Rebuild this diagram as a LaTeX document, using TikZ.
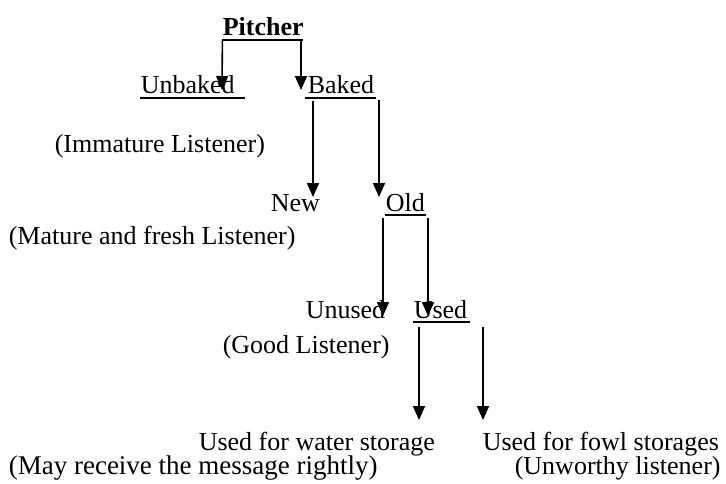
\documentclass[tikz,border=0pt]{standalone}
\usepackage{fontspec}
\setmainfont{Liberation Serif}
\usetikzlibrary{arrows.meta}

\begin{document}
\begin{tikzpicture}[x=0.5pt,y=-0.5pt,line width=0.8pt,
    >={Triangle[width=6pt,length=7pt]},
    every node/.style={inner sep=0pt,anchor=base west,
        font=\fontsize{13}{15}\selectfont}]
\useasboundingbox (0,0) rectangle (726,483);

\node [font=\fontsize{13}{15}\selectfont\bfseries]
                      (pitcher)  at (222, 35) {Pitcher};
\node                 (unbaked)  at (140, 93) {Unbaked};
\node                 (baked)    at (307, 93) {Baked};
\node                 (immature) at ( 54,152) {(Immature Listener)};
\node                 (new)      at (270,211) {New};
\node                 (old)      at (385,211) {Old};
\node                 (mature)   at (  8,244) {(Mature and fresh Listener)};
\node                 (unused)   at (305,318) {Unused};
\node                 (used)     at (413,318) {Used};
\node                 (good)     at (222,353) {(Good Listener)};
\node                 (water)    at (198,450) {Used for water storage};
\node                 (fowl)     at (482,450) {Used for fowl storages};
\node [font=\fontsize{13.5}{15}\selectfont]
                      (may)      at (  8,474) {(May receive the message rightly)};
\node                 (unworthy) at (514,474) {(Unworthy listener)};

% underlines
\coordinate (pitcher-l) at (222, 40);
\coordinate (pitcher-r) at (303, 40);
\coordinate (unbaked-l) at (140, 98);
\coordinate (unbaked-r) at (245, 98);
\coordinate (baked-l)   at (305, 98);
\coordinate (baked-r)   at (376, 98);
\coordinate (old-l)     at (385,215);
\coordinate (old-r)     at (426,215);
\coordinate (used-l)    at (413,322);
\coordinate (used-r)    at (470,322);
\draw (pitcher-l) -- (pitcher-r);
\draw (unbaked-l) -- (unbaked-r);
\draw (baked-l)   -- (baked-r);
\draw (old-l)     -- (old-r);
\draw (used-l)    -- (used-r);

% arrow ends
\coordinate (unbaked-in) at (222, 90);
\coordinate (baked-in)   at (301, 90);
\coordinate (baked-a)    at (313,101);
\coordinate (baked-b)    at (379,100);
\coordinate (new-in)     at (313,197);
\coordinate (old-in)     at (379,197);
\coordinate (old-a)      at (383,218);
\coordinate (old-b)      at (428,218);
\coordinate (unused-in)  at (383,316);
\coordinate (used-in)    at (428,316);
\coordinate (used-a)     at (419,327);
\coordinate (used-b)     at (483,327);
\coordinate (water-in)   at (419,420);
\coordinate (fowl-in)    at (483,420);

\draw [->] ([xshift=0.2pt]pitcher-l) -- (unbaked-in);
\draw [->] ([xshift=-1pt]pitcher-r)  -- (baked-in);
\draw [->] (baked-a) -- (new-in);
\draw [->] (baked-b) -- (old-in);
\draw [->] (old-a)   -- (unused-in);
\draw [->] (old-b)   -- (used-in);
\draw [->] (used-a)  -- (water-in);
\draw [->] (used-b)  -- (fowl-in);
\end{tikzpicture}
\end{document}
